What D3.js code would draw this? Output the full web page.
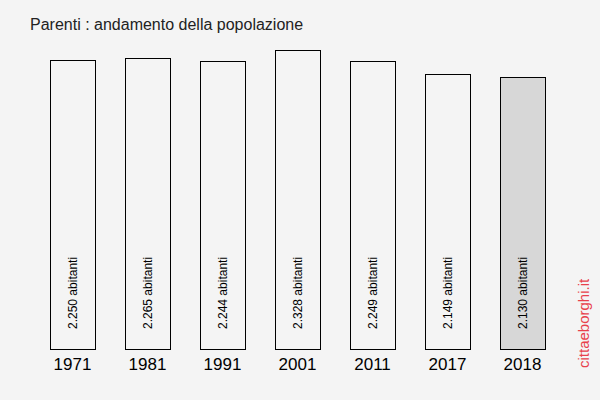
<!DOCTYPE html>
<html>
<head>
<meta charset="utf-8">
<script src="https://cdn.jsdelivr.net/npm/d3@7"></script>
<style>
  body { margin: 0; background: #f4f4f4; }
  svg { display: block; font-family: "Liberation Sans", Arial, sans-serif; }
</style>
</head>
<body>
<div id="graph"></div>
<script>
const years = ["1971", "1981", "1991", "2001", "2011", "2017", "2018"];
const residents = [2250, 2265, 2244, 2328, 2249, 2149, 2130];
const valueLabels = ["2.250 abitanti", "2.265 abitanti", "2.244 abitanti", "2.328 abitanti", "2.249 abitanti", "2.149 abitanti", "2.130 abitanti"];
const title = "Parenti : andamento della popolazione";

const width = 600, height = 400;
const baseY = 349, topY = 50;

const svg = d3.select("#graph")
    .append("svg")
    .attr("width", width)
    .attr("height", height);

svg.append("rect")
    .attr("width", width)
    .attr("height", height)
    .attr("fill", "#f4f4f4");

const xScale = d3.scaleBand()
    .domain(years)
    .range([35, 560])
    .paddingInner(0.4)
    .paddingOuter(0.2);

// the bars do not start from zero in the original
const yScale = d3.scaleLinear()
    .domain([100, d3.max(residents)])
    .range([baseY, topY]);

const data = years.map((y, i) => ({year: y, value: residents[i], label: valueLabels[i]}));

svg.append("text")
    .attr("x", 30)
    .attr("y", 30)
    .attr("font-size", 16)
    .attr("fill", "#222")
    .text(title);

svg.selectAll(".bar")
    .data(data)
    .enter()
    .append("rect")
    .attr("class", "bar")
    .attr("x", d => xScale(d.year) + 0.5)
    .attr("y", d => Math.round(yScale(d.value)) + 0.5)
    .attr("width", xScale.bandwidth())
    .attr("height", d => baseY - Math.round(yScale(d.value)))
    .attr("fill", (d, i) => i === data.length - 1 ? "#d7d7d7" : "#f4f4f4")
    .attr("stroke", "#000")
    .attr("stroke-width", 1);

svg.selectAll(".val")
    .data(data)
    .enter()
    .append("text")
    .attr("class", "val")
    .attr("transform", d => "translate(" + (xScale(d.year) + xScale.bandwidth() / 2 + 4) + "," + (baseY - 20) + ") rotate(-90)")
    .attr("font-size", 12)
    .attr("fill", "#000")
    .text(d => d.label);

const xAxis = d3.axisBottom(xScale).tickSize(0).tickPadding(9);
const gx = svg.append("g")
    .attr("transform", "translate(0," + baseY + ")")
    .call(xAxis);
gx.select(".domain").remove();
gx.selectAll("text")
    .attr("font-size", 17)
    .attr("font-family", "Liberation Sans, Arial, sans-serif")
    .attr("fill", "#000");

svg.append("text")
    .attr("transform", "translate(589,368) rotate(-90)")
    .attr("font-size", 15)
    .attr("fill", "#e8414b")
    .text("cittaeborghi.it");
</script>
</body>
</html>
